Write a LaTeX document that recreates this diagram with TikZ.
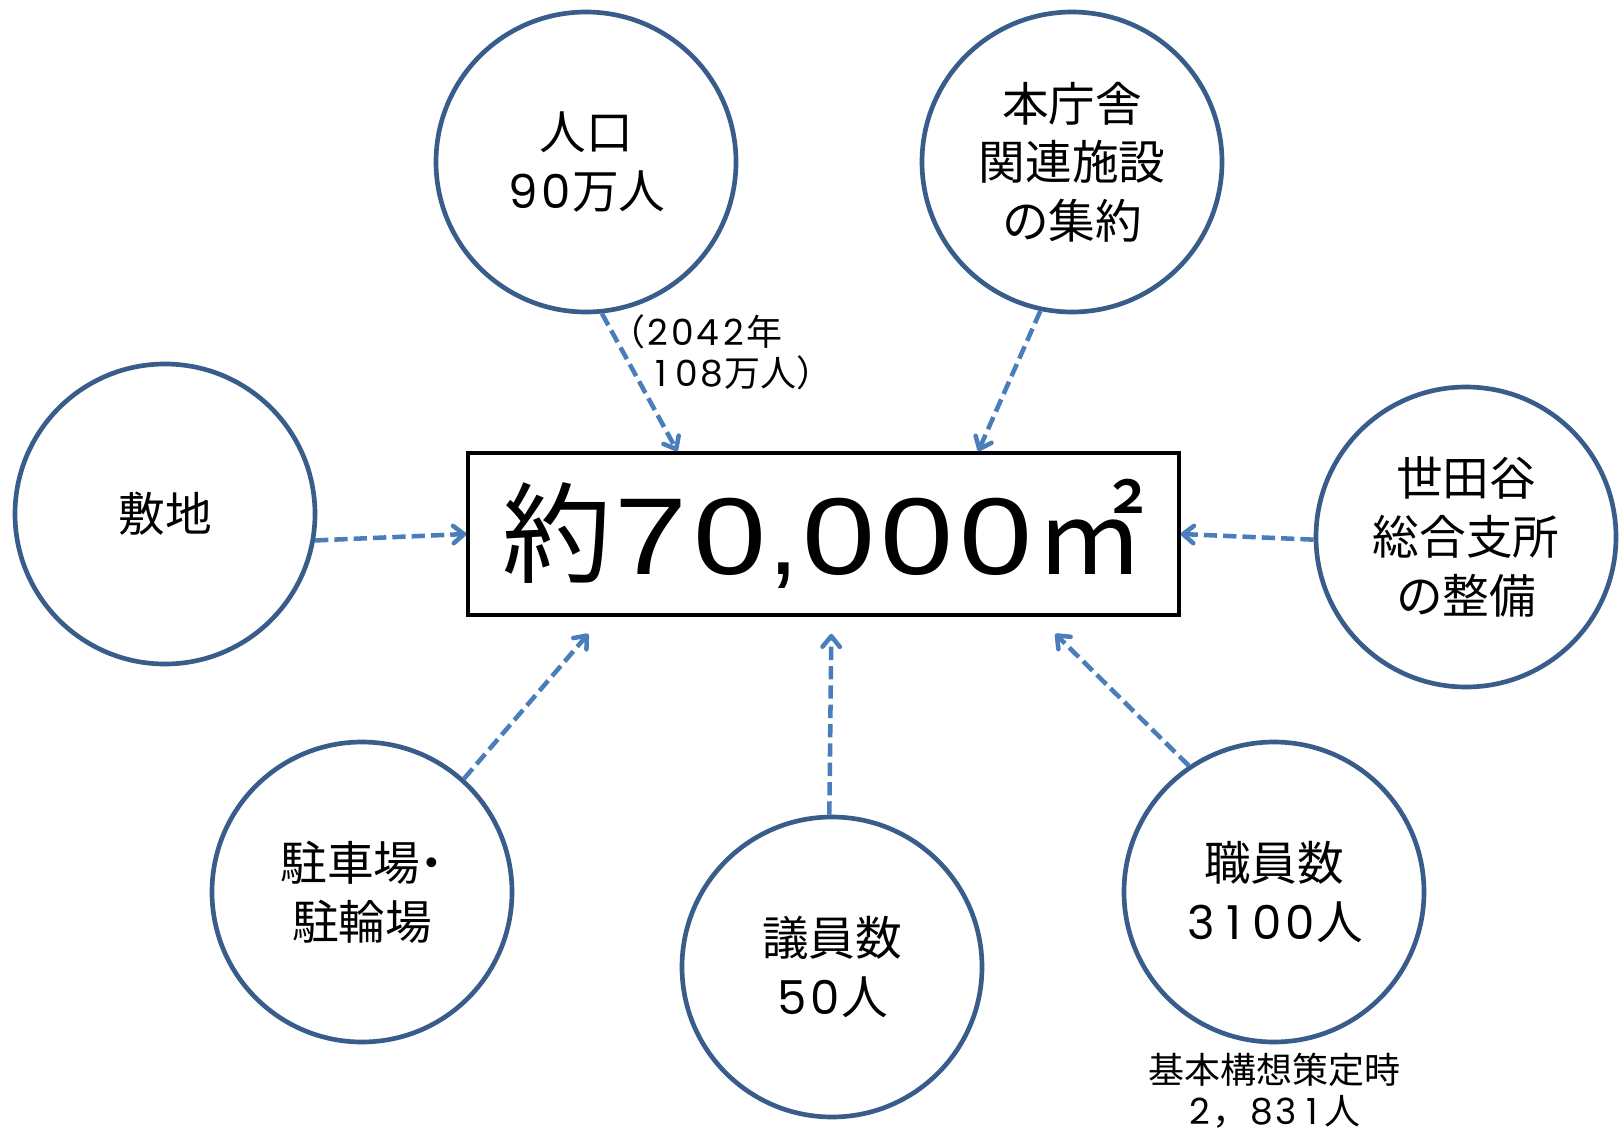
\documentclass[tikz,border=0pt]{standalone}
\usepackage{fontspec}
\usepackage{graphicx}
\setmainfont{Noto Sans CJK JP}
\newfontfamily\lat{Liberation Sans}
\newfontfamily\pop{Poppins}
\usetikzlibrary{arrows.meta,calc}
\definecolor{ring}{HTML}{385D8A}
\definecolor{arr}{HTML}{4A7EBB}
\newcommand\D[1]{\makebox[0.7em]{\pop #1}}
\newcommand\B[1]{\makebox[0.72em]{\scalebox{1.2}[1]{\lat #1}}}
\begin{document}
\begin{tikzpicture}[x=0.75pt,y=-0.75pt,
  topic/.style={circle,draw=ring,fill=white,line width=3.5pt,minimum size=225pt,inner sep=0pt,align=center,font=\fontsize{35}{44}\selectfont},
  bigbox/.style={draw=black,line width=2.8pt,minimum width=533pt,minimum height=121.5pt,inner sep=0pt,font=\fontsize{82}{82}\selectfont},
  link/.style={draw=arr,line width=3.4pt,dash pattern=on 10pt off 4.5pt,-{Straight Barb[length=8pt,width=13pt,round]}},
  note/.style={inner sep=0pt,font=\fontsize{27}{31}\selectfont}]
\fill[white] (0,0) rectangle (1621,1138);
\useasboundingbox (0,0) rectangle (1621,1138);

\node[bigbox] (main) at (823.5,534) {約\B7\B0{\lat ,}\B0\B0\B0㎡};

\node[topic] (pop) at (586,162) {人口\\\D9\D0万人};
\node[topic] (hq) at (1072,162) {本庁舎\\関連施設\\の集約};
\node[topic] (site) at (165,514) {敷地};
\node[topic] (setg) at (1466,537) {世田谷\\総合支所\\の整備};
\node[topic] (park) at (362,892) {駐車場\makebox[0.5em]{・}\\駐輪場};
\node[topic] (council) at (832,967) {議員数\\\D5\D0人};
\node[topic] (staff) at (1274,892) {職員数\\\D3\D1\D0\D0人};

\node[note,align=left,anchor=west] (popnote) at (609,352) {（\D2\D0\D4\D2年\\\hspace*{1.1em}\D1\D0\D8万人）};
\node[note,align=center] (staffnote) at (1274,1091) {基本構想策定時\\\D2，\D8\D3\D1人};

\draw[link] (pop.-84) -- ($(main.north west)+(211,0)$);
\draw[link] (hq.-102) -- ($(main.north west)+(512,0)$);
\draw[link] (site.-10) -- (main.west);
\draw[link] (setg.181) -- (main.east);
\draw[link] (park.48) -- ($(main.south west)+(122,17)$);
\draw[link] (council.91) -- ($(main.south west)+(365,17)$);
\draw[link] (staff.124) -- ($(main.south west)+(589,17)$);
\end{tikzpicture}
\end{document}
